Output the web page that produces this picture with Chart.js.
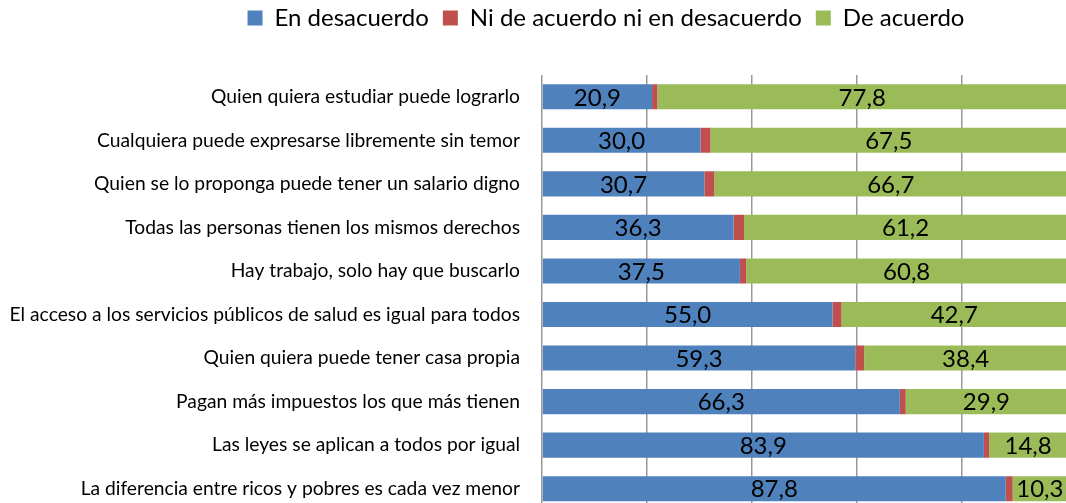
<!DOCTYPE html>
<html lang="es">
<head>
    <meta charset="UTF-8">
    <title>Percepción de igualdad</title>
    <script src="https://cdn.jsdelivr.net/npm/chart.js"></script>
    <style>
        body {
            margin: 0;
            background: #ffffff;
            overflow: hidden;
            font-family: Lato, sans-serif;
        }
        .chart-box {
            position: relative;
            width: 1212px;
            height: 536px;
        }
    </style>
</head>
<body>
    <div class="chart-box">
        <canvas id="chart"></canvas>
    </div>

    <script>
        const categories = [
            'Quien quiera estudiar puede lograrlo',
            'Cualquiera puede expresarse libremente sin temor',
            'Quien se lo proponga puede tener un salario digno',
            'Todas las personas tienen los mismos derechos',
            'Hay trabajo, solo hay que buscarlo',
            'El acceso a los servicios públicos de salud es igual para todos',
            'Quien quiera puede tener casa propia',
            'Pagan más impuestos los que más tienen',
            'Las leyes se aplican a todos por igual',
            'La diferencia entre ricos y pobres es cada vez menor'
        ];
        const enDesacuerdo = [20.9, 30.0, 30.7, 36.3, 37.5, 55.0, 59.3, 66.3, 83.9, 87.8];
        const niNi = [1.0, 1.9, 1.9, 2.0, 1.2, 1.7, 1.7, 1.1, 1.0, 1.3];
        const deAcuerdo = [77.8, 67.5, 66.7, 61.2, 60.8, 42.7, 38.4, 29.9, 14.8, 10.3];
        const seriesNames = ['En desacuerdo', 'Ni de acuerdo ni en desacuerdo', 'De acuerdo'];
        const seriesColors = ['#4F81BD', '#C0504D', '#9BBB59'];

        // 100% stacked: each row is scaled to its own total
        const totals = categories.map((c, i) => enDesacuerdo[i] + niNi[i] + deAcuerdo[i]);
        const toPct = arr => arr.map((v, i) => v / totals[i] * 100);

        // labels with the raw value in the middle of the blue and green segments
        const valueLabels = {
            id: 'valueLabels',
            afterDatasetsDraw(chart) {
                const ctx = chart.ctx;
                ctx.save();
                ctx.font = '24px Lato';
                ctx.fillStyle = '#000000';
                ctx.textAlign = 'center';
                ctx.textBaseline = 'middle';
                chart.data.datasets.forEach((ds, di) => {
                    if (!ds.showValues) return;
                    chart.getDatasetMeta(di).data.forEach((bar, i) => {
                        const p = bar.getCenterPoint();
                        ctx.fillText(ds.rawValues[i].toFixed(1).replace('.', ','), p.x, p.y + 1);
                    });
                });
                ctx.restore();
            }
        };

        // extra room under the legend
        const legendSpace = {
            id: 'legendSpace',
            beforeInit(chart) {
                const fit = chart.legend.fit;
                chart.legend.fit = function () {
                    fit.bind(chart.legend)();
                    this.height = 83;
                };
            }
        };

        const rawSeries = [enDesacuerdo, niNi, deAcuerdo];

        new Chart(document.getElementById('chart'), {
            type: 'bar',
            data: {
                labels: categories,
                datasets: rawSeries.map((arr, k) => ({
                    label: seriesNames[k],
                    data: toPct(arr),
                    rawValues: arr,
                    showValues: k !== 1,
                    backgroundColor: seriesColors[k],
                    borderWidth: 0,
                    barPercentage: 0.576,
                    categoryPercentage: 1
                }))
            },
            options: {
                indexAxis: 'y',
                responsive: true,
                maintainAspectRatio: false,
                animation: false,
                layout: {
                    padding: { top: -8, left: 0, right: 0, bottom: 0 }
                },
                scales: {
                    x: {
                        stacked: true,
                        min: 0,
                        max: 127.6,
                        ticks: { display: false, stepSize: 20 },
                        grid: { color: '#999999', lineWidth: 1.5, drawTicks: false },
                        border: { display: false },
                        afterFit(scale) {
                            scale.height = 0;
                        }
                    },
                    y: {
                        stacked: true,
                        grid: { display: false },
                        border: { display: false },
                        ticks: {
                            color: '#000000',
                            padding: 14,
                            font: { family: 'Lato', size: 19.25 }
                        },
                        afterFit(scale) {
                            scale.width = 542;
                        }
                    }
                },
                plugins: {
                    legend: {
                        position: 'top',
                        labels: {
                            color: '#000000',
                            boxWidth: 15,
                            boxHeight: 15,
                            padding: 14,
                            font: { family: 'Lato', size: 24 }
                        }
                    },
                    tooltip: { enabled: false }
                }
            },
            plugins: [valueLabels, legendSpace]
        });
    </script>
</body>
</html>
